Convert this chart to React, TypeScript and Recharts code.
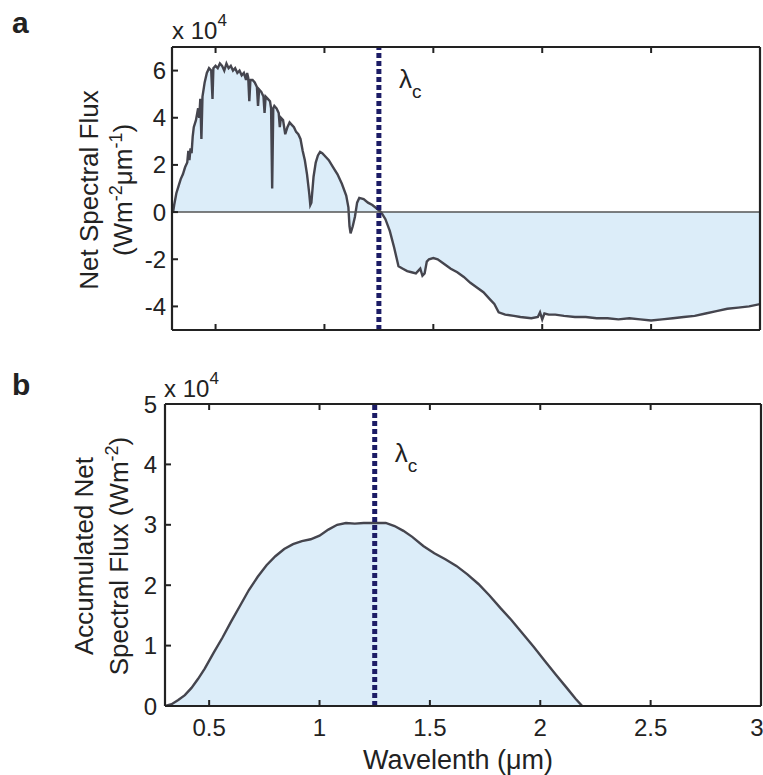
import { ComposedChart, Area, XAxis, YAxis, ReferenceLine } from 'recharts'

// Net spectral flux (W m^-2 um^-1) against wavelength (um)
const netWavelength = [
  0.305, 0.31, 0.32, 0.33, 0.34, 0.35, 0.36, 0.37, 0.375, 0.38, 0.385, 0.39, 0.395, 0.4, 0.41,
  0.42, 0.425, 0.43, 0.435, 0.44, 0.45, 0.46, 0.47, 0.48, 0.486, 0.49, 0.5, 0.51, 0.52, 0.53,
  0.54, 0.55, 0.56, 0.57, 0.58, 0.59, 0.6, 0.61, 0.62, 0.63, 0.64, 0.645, 0.65, 0.655, 0.66,
  0.67, 0.68, 0.69, 0.695, 0.7, 0.71, 0.72, 0.725, 0.73, 0.74, 0.75, 0.755, 0.76, 0.765, 0.77,
  0.78, 0.79, 0.795, 0.8, 0.81, 0.82, 0.83, 0.84, 0.85, 0.86, 0.87, 0.88, 0.89, 0.9, 0.91,
  0.92, 0.93, 0.935, 0.94, 0.95, 0.96, 0.97, 0.98, 0.99, 1.0, 1.02, 1.04, 1.06, 1.08, 1.1,
  1.11, 1.115, 1.12, 1.13, 1.14, 1.15, 1.16, 1.18, 1.2, 1.22, 1.24, 1.26, 1.28, 1.3, 1.32,
  1.34, 1.36, 1.38, 1.4, 1.42, 1.44, 1.45, 1.46, 1.47, 1.48, 1.5, 1.52, 1.55, 1.58, 1.61,
  1.64, 1.67, 1.7, 1.73, 1.76, 1.78, 1.8, 1.83, 1.87, 1.9, 1.95, 1.98, 1.99, 2.0, 2.01,
  2.03, 2.06, 2.1, 2.15, 2.2, 2.25, 2.3, 2.35, 2.4, 2.45, 2.5, 2.55, 2.6, 2.65, 2.7,
  2.75, 2.8, 2.85, 2.9, 2.95, 3.0,
]
const netFlux = [
  0, 3000, 8000, 11000, 14000, 16000, 19000, 21000, 26000, 22000, 27000, 25000, 32000, 36000, 39000,
  44000, 40000, 48000, 31000, 49000, 55000, 59000, 61000, 60000, 48000, 61000, 62000, 61000, 63000, 62000,
  60000, 63000, 61000, 62000, 60000, 61000, 59000, 60000, 58000, 59000, 56000, 59000, 57000, 47000, 56000,
  56000, 55000, 53000, 45000, 52000, 51000, 49000, 42000, 49000, 48000, 47000, 44000, 10000, 44000, 45000,
  44000, 42000, 36000, 40000, 39000, 33000, 36000, 38000, 37000, 36000, 34000, 33000, 31000, 26000, 22000,
  16000, 8000, 3000, 4000, 15000, 21000, 24000, 25500, 25000, 24000, 22000, 19000, 16000, 12000, 7000,
  2000, -6000, -9000, -6000, -2000, 4000, 6000, 5500, 4000, 3000, 1500, 0, -3000, -8000, -15000,
  -23000, -24000, -25000, -25500, -26000, -24000, -27000, -26000, -21000, -20000, -19500, -20000, -22000, -24000, -25500,
  -27500, -30000, -32000, -34000, -37000, -39000, -42500, -43500, -44000, -44500, -45000, -44500, -42500, -45500, -43000,
  -43500, -43500, -44000, -44500, -44500, -45000, -45000, -45500, -45000, -45500, -46000, -45500, -45000, -44500, -44000,
  -43000, -42000, -41000, -40500, -40000, -39000,
]

// Accumulated net spectral flux (W m^-2)
const accWavelength = [
  0.3, 0.33, 0.36, 0.39, 0.42, 0.45, 0.48, 0.52, 0.56, 0.6, 0.64, 0.68, 0.72, 0.76, 0.8, 0.84,
  0.88, 0.92, 0.96, 1.0, 1.04, 1.08, 1.12, 1.16, 1.2, 1.25, 1.3, 1.34, 1.38, 1.42, 1.47, 1.52,
  1.57, 1.62, 1.67, 1.72, 1.77, 1.82, 1.87, 1.92, 1.97, 2.02, 2.07, 2.12, 2.16, 2.19,
]
const accFlux = [
  0, 300, 1000, 1800, 3000, 4500, 6200, 8800, 11300, 14000, 16600, 19200, 21400, 23300, 24800, 26000,
  26800, 27300, 27600, 28200, 29200, 30000, 30300, 30200, 30300, 30300, 30300, 29800, 29000, 28000, 26500, 25300,
  24300, 23200, 21800, 20200, 18300, 16200, 14200, 12000, 9800, 7500, 5200, 3000, 1200, 0,
]

const xTicks = [0.5, 1, 1.5, 2, 2.5, 3]
const netTicks = [-40000, -20000, 0, 20000, 40000, 60000]
const accTicks = [0, 10000, 20000, 30000, 40000, 50000]
const cutoff = 1.25

const netData = netWavelength.map((w, i) => ({ w, v: netFlux[i] }))
const accData = accWavelength.map((w, i) => ({ w, v: accFlux[i] }))

const FONT = '"Liberation Sans", Arial, Helvetica, sans-serif'
const INK = '#222'
const CURVE = '#45454e'
const FILL = '#dcedf9'
const DOTS = '#1c1c66'

const tickStyle = { fontSize: 24, fill: INK, fontFamily: FONT }
const axisLine = { stroke: '#222', strokeWidth: 2.2 }
const tickLine = { stroke: '#222', strokeWidth: 2 }
const blank = () => ''
const e4 = (v: number) => `${v / 10000}`

function LambdaLabel(props: any) {
  const { viewBox, dy } = props
  const x = viewBox.x + 20
  const y = viewBox.y + dy
  return (
    <text x={x} y={y} fontFamily={FONT} fontSize={26} fill={INK}>
      λ
      <tspan dy={10} fontSize={19}>c</tspan>
    </text>
  )
}

export default function App() {
  return (
    <div style={{ position: 'absolute', left: 0, top: 0, width: 763, height: 775, background: '#fff' }}>
      <div style={{ position: 'absolute', left: 0, top: 0 }}>
        <ComposedChart width={763} height={340} data={netData} margin={{ top: 46, right: 2, bottom: 9, left: 0 }}>
          <XAxis dataKey="w" type="number" domain={[0.3, 3]} ticks={xTicks} allowDataOverflow
            axisLine={axisLine} tickLine={tickLine} tickSize={-6} tickFormatter={blank} height={1} />
          <XAxis xAxisId="top" orientation="top" dataKey="w" type="number" domain={[0.3, 3]} ticks={xTicks}
            allowDataOverflow axisLine={axisLine} tickLine={tickLine} tickSize={-6} tickFormatter={blank} height={1} />
          <YAxis type="number" domain={[-50000, 70000]} ticks={netTicks} allowDataOverflow width={172}
            axisLine={axisLine} tickLine={tickLine} tickSize={-6} tickMargin={12} tick={tickStyle} tickFormatter={e4} />
          <YAxis yAxisId="right" orientation="right" type="number" domain={[-50000, 70000]} ticks={netTicks}
            width={1} axisLine={axisLine} tickLine={tickLine} tickSize={-6} tickFormatter={blank} />
          <Area dataKey="v" type="linear" baseValue={0} stroke={CURVE} strokeWidth={2.4} fill={FILL}
            fillOpacity={1} isAnimationActive={false} dot={false} activeDot={false} />
          <ReferenceLine y={0} stroke="#555" strokeWidth={1.5} />
          <ReferenceLine x={cutoff} stroke={DOTS} strokeWidth={5} strokeDasharray="5 3"
            label={<LambdaLabel dy={41} />} />
        </ComposedChart>
      </div>

      <div style={{ position: 'absolute', left: 0, top: 340 }}>
        <ComposedChart width={763} height={435} data={accData} margin={{ top: 63, right: 1, bottom: 29, left: 0 }}>
          <XAxis dataKey="w" type="number" domain={[0.3, 3]} ticks={xTicks} allowDataOverflow height={40}
            axisLine={axisLine} tickLine={tickLine} tickSize={-6} tickMargin={19} tick={tickStyle} />
          <XAxis xAxisId="top" orientation="top" dataKey="w" type="number" domain={[0.3, 3]} ticks={xTicks}
            allowDataOverflow axisLine={axisLine} tickLine={tickLine} tickSize={-6} tickFormatter={blank} height={1} />
          <YAxis type="number" domain={[0, 50000]} ticks={accTicks} allowDataOverflow width={165}
            axisLine={axisLine} tickLine={tickLine} tickSize={-6} tickMargin={14} tick={tickStyle} tickFormatter={e4} />
          <YAxis yAxisId="right" orientation="right" type="number" domain={[0, 50000]} ticks={accTicks}
            width={1} axisLine={axisLine} tickLine={tickLine} tickSize={-6} tickFormatter={blank} />
          <Area dataKey="v" type="linear" baseValue={0} stroke={CURVE} strokeWidth={2.4} fill={FILL}
            fillOpacity={1} isAnimationActive={false} dot={false} activeDot={false} />
          <ReferenceLine x={cutoff} stroke={DOTS} strokeWidth={5} strokeDasharray="5 3"
            label={<LambdaLabel dy={58} />} />
        </ComposedChart>
      </div>

      {/* panel letters, axis titles and exponent notes */}
      <svg width={763} height={775} style={{ position: 'absolute', left: 0, top: 0, pointerEvents: 'none' }}
        fontFamily={FONT} fill={INK}>
        <text x={12} y={33} fontSize={30} fontWeight="bold">a</text>
        <text x={12} y={395} fontSize={30} fontWeight="bold">b</text>

        <text x={172} y={39} fontSize={24}>x 10<tspan dy={-13} fontSize={17}>4</tspan></text>
        <text x={164} y={397} fontSize={24}>x 10<tspan dy={-13} fontSize={17}>4</tspan></text>

        <text transform="translate(98,190) rotate(-90)" textAnchor="middle" fontSize={26}>Net Spectral Flux</text>
        <text transform="translate(132,190) rotate(-90)" textAnchor="middle" fontSize={26}>
          (Wm<tspan dy={-10} fontSize={18}>-2</tspan><tspan dy={10}>μm</tspan>
          <tspan dy={-10} fontSize={18}>-1</tspan><tspan dy={10}>)</tspan>
        </text>

        <text transform="translate(93,556) rotate(-90)" textAnchor="middle" fontSize={26}>Accumulated Net</text>
        <text transform="translate(128,556) rotate(-90)" textAnchor="middle" fontSize={26}>
          Spectral Flux (Wm<tspan dy={-10} fontSize={18}>-2</tspan><tspan dy={10}>)</tspan>
        </text>

        <text x={458} y={769} textAnchor="middle" fontSize={27}>Wavelenth (μm)</text>
      </svg>
    </div>
  )
}
